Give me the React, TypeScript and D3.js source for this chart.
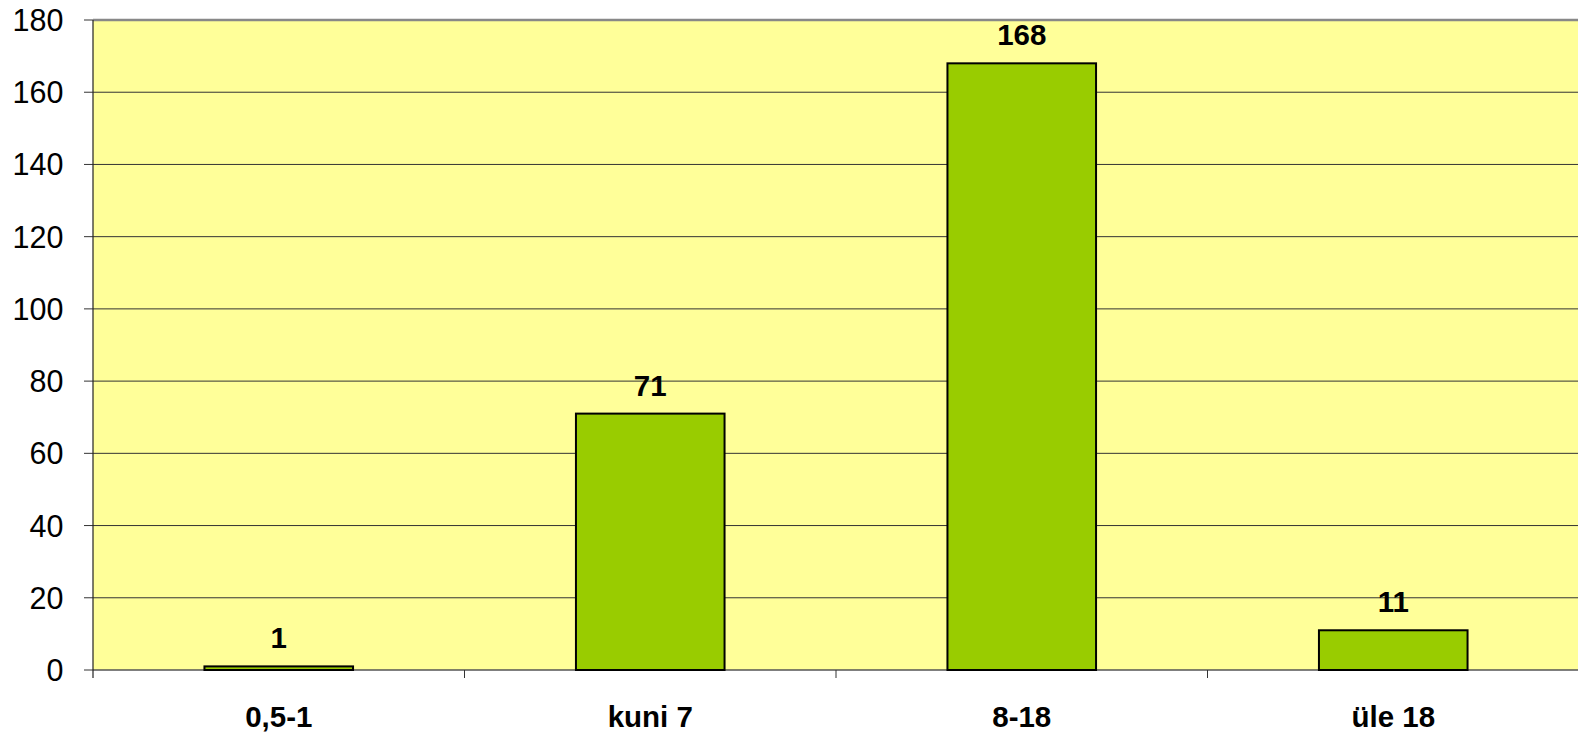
import React from "react";
import * as d3 from "d3";

const categories = ["0,5-1", "kuni 7", "8-18", "üle 18"];
const values = [1, 71, 168, 11];
const yTicks = [0, 20, 40, 60, 80, 100, 120, 140, 160, 180];

const W = 1578;
const H = 734;
const left = 93;
const right = 1579;
const top = 20;
const bottom = 670;

export default function App() {
  const x = d3.scaleBand<string>().domain(categories).range([left, right]).paddingInner(0.6).paddingOuter(0.3);
  const step = (right - left) / categories.length;
  const y = d3.scaleLinear().domain([0, 180]).range([bottom, top]);
  const font = "'Liberation Sans', Arial, sans-serif";
  return (
    <svg width={W} height={H} style={{ position: "absolute", left: 0, top: 0, display: "block" }}>
      <rect x={left} y={top} width={right - left} height={bottom - top} fill="#FFFF99" />
      {yTicks.map((t) => (
        <g key={t}>
          {t > 0 && t < 180 && (
            <line x1={left} x2={right} y1={y(t)} y2={y(t)} stroke="#333" strokeWidth={1} />
          )}
          <line x1={84} x2={left} y1={y(t)} y2={y(t)} stroke="#333" strokeWidth={1} />
          <text x={63.5} y={y(t)} dy="0.36em" textAnchor="end" fontFamily={font} fontSize={30.5} fill="#000">
            {t}
          </text>
        </g>
      ))}
      <line x1={left} x2={right} y1={top} y2={top} stroke="#888" strokeWidth={2.5} />
      <line x1={left} x2={right} y1={bottom} y2={bottom} stroke="#555" strokeWidth={1.5} />
      <line x1={left} x2={left} y1={top} y2={bottom + 8} stroke="#222" strokeWidth={1.2} />
      {categories.map((c, i) => (
        <line key={"t" + c} x1={left + step * (i + 1)} x2={left + step * (i + 1)} y1={bottom} y2={bottom + 8} stroke="#333" strokeWidth={1} />
      ))}
      {categories.map((c, i) => (
        <g key={c}>
          <rect
            x={x(c)!}
            y={y(values[i])}
            width={x.bandwidth()}
            height={bottom - y(values[i])}
            fill="#99CC00"
            stroke="#000"
            strokeWidth={2}
          />
          <text x={x(c)! + x.bandwidth() / 2} y={y(values[i]) - 18} textAnchor="middle" fontFamily={font} fontWeight="bold" fontSize={29.5} fill="#000">
            {values[i]}
          </text>
          <text x={x(c)! + x.bandwidth() / 2} y={726.5} textAnchor="middle" fontFamily={font} fontWeight="bold" fontSize={29.5} fill="#000">
            {c}
          </text>
        </g>
      ))}
    </svg>
  );
}
